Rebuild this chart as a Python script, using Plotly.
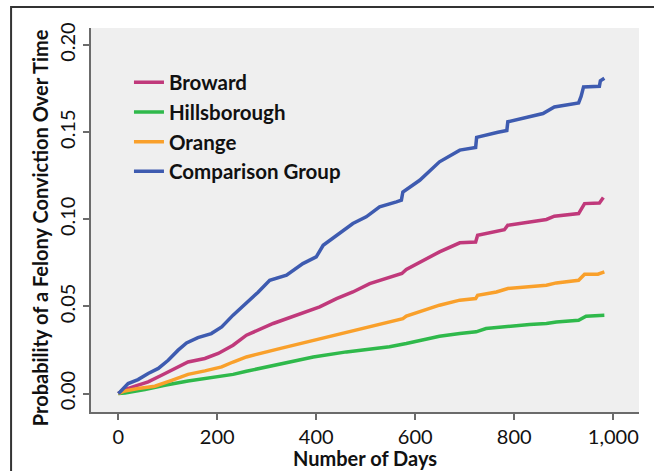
import plotly.graph_objects as go

# ---- data ----
broward_days = [0, 13.5, 34, 60.5, 87.6, 114, 141, 175, 202, 232, 259, 313, 360, 407, 441, 474, 508, 548,
                573, 582, 616, 649, 690, 722, 726, 764, 780, 787, 831, 865, 881, 930, 942, 972, 980]
broward_vals = [0, 0.0023, 0.0042, 0.0067, 0.0105, 0.0144, 0.0181, 0.0201, 0.0230, 0.0277, 0.0335, 0.0402,
                0.0449, 0.0497, 0.0545, 0.0583, 0.0631, 0.0669, 0.0689, 0.0712, 0.0765, 0.0813, 0.0865,
                0.0870, 0.0909, 0.0928, 0.0940, 0.0966, 0.0985, 0.0999, 0.1018, 0.1033, 0.1090, 0.1094, 0.1125]

hills_days = [0, 13.5, 54, 94, 141, 188, 232, 259, 326, 394, 461, 515, 548, 582, 616, 649, 690, 723, 743,
              787, 831, 865, 885, 930, 945, 982]
hills_vals = [0, 0.0003, 0.0023, 0.0048, 0.0072, 0.0092, 0.0110, 0.0128, 0.0170, 0.0210, 0.0239, 0.0258,
              0.0268, 0.0287, 0.0306, 0.0329, 0.0344, 0.0354, 0.0373, 0.0386, 0.0396, 0.0402, 0.0411,
              0.0421, 0.0444, 0.0449]

orange_days = [0, 13.5, 40, 74, 108, 141, 175, 209, 232, 259, 326, 394, 461, 515, 548, 575, 582, 616, 649,
               690, 722, 726, 764, 787, 831, 865, 885, 930, 942, 969, 982]
orange_vals = [0, 0.0015, 0.0029, 0.0042, 0.0076, 0.0110, 0.0130, 0.0153, 0.0181, 0.0210, 0.0258, 0.0306,
               0.0354, 0.0392, 0.0415, 0.0430, 0.0444, 0.0478, 0.0507, 0.0536, 0.0545, 0.0564, 0.0583,
               0.0603, 0.0612, 0.0622, 0.0635, 0.0650, 0.0685, 0.0685, 0.0698]

comp_days = [0, 3.6, 20, 40, 60.5, 81, 101, 121, 138, 161, 188, 209, 232, 259, 282, 306, 340, 373, 400, 414,
             447, 474, 501, 528, 562, 572, 575, 609, 649, 690, 722, 724, 767, 785, 787, 831, 858, 881,
             930, 935, 940, 972, 974, 982]
comp_vals = [0, 0.0009, 0.0057, 0.0080, 0.0115, 0.0144, 0.0191, 0.0249, 0.0290, 0.0321, 0.0344, 0.0382,
             0.0450, 0.0517, 0.0580, 0.0650, 0.0679, 0.0746, 0.0784, 0.0851, 0.0918, 0.0976, 0.1014,
             0.1071, 0.1100, 0.1110, 0.1157, 0.1224, 0.1330, 0.1397, 0.1412, 0.1470, 0.1500, 0.1510,
             0.1560, 0.1588, 0.1607, 0.1645, 0.1668, 0.1705, 0.1760, 0.1764, 0.1795, 0.1810]

series_names = ["Broward", "Hillsborough", "Orange", "Comparison Group"]
series_colors = ["#c0397b", "#2fb94b", "#f9a02b", "#3e5bb0"]
series_days = [broward_days, hills_days, orange_days, comp_days]
series_vals = [broward_vals, hills_vals, orange_vals, comp_vals]

x_ticks = [0, 200, 400, 600, 800, 1000]
x_tick_labels = ["0", "200", "400", "600", "800", "1,000"]
y_ticks = [0.00, 0.05, 0.10, 0.15, 0.20]
y_tick_labels = ["0.00", "0.05", "0.10", "0.15", "0.20"]

FONT = "Lato"

# plot-area geometry in pixels
L, R, T, B = 91, 639.5, 28, 411.7
W, H = 654, 471
PW, PH = R - L, B - T


def px_x(px):
    return (px - L) / PW


def px_y(py):
    return (B - py) / PH


fig = go.Figure()
for name, color, xs, ys in zip(series_names, series_colors, series_days, series_vals):
    fig.add_trace(go.Scatter(
        x=xs, y=ys, mode="lines", name=name,
        line=dict(color=color, width=3.5, shape="linear"),
    ))

axis_common = dict(
    showgrid=False, zeroline=False, showline=True, linecolor="#6b6b6b", linewidth=2,
    ticks="outside", ticklen=6, tickwidth=2, tickcolor="#6b6b6b", automargin=False,
    tickfont=dict(family=FONT, size=20, color="#111111"),
)

fig.update_layout(
    width=W, height=H,
    margin=dict(l=L, r=W - R, t=T, b=H - B, autoexpand=False),
    paper_bgcolor="white",
    plot_bgcolor="#efefef",
    font=dict(family=FONT, color="#111111"),
    xaxis=dict(range=[-55, 1052], tickvals=x_ticks, ticktext=x_tick_labels, **axis_common),
    yaxis=dict(range=[-0.0106, 0.2098], tickvals=y_ticks, ticktext=y_tick_labels, tickangle=-90,
               **axis_common),
    showlegend=True,
    legend=dict(
        x=px_x(129), y=px_y(62.5), xanchor="left", yanchor="top",
        bgcolor="rgba(0,0,0,0)", borderwidth=0,
        font=dict(family=FONT, size=20.5, color="#111111", weight="bold"),
        itemwidth=30,
    ),
    annotations=[
        dict(text="<b>Number of Days</b>", xref="paper", yref="paper", x=0.5, y=px_y(458),
             xanchor="center", yanchor="middle", showarrow=False,
             font=dict(family=FONT, size=20, color="#111111")),
        dict(text="<b>Probability of a Felony Conviction Over Time</b>", xref="paper", yref="paper",
             x=px_x(40), y=px_y(228), xanchor="center", yanchor="middle", textangle=-90,
             showarrow=False, font=dict(family=FONT, size=20, color="#111111")),
    ],
    shapes=[
        dict(type="rect", xref="paper", yref="paper",
             x0=px_x(11), x1=px_x(670), y0=px_y(490), y1=px_y(7),
             line=dict(color="#333333", width=2), fillcolor="rgba(0,0,0,0)", layer="below"),
    ],
)

fig.write_html("out.html", config={"displayModeBar": False},
               post_script="document.body.style.margin='0';document.body.style.overflow='hidden';")
